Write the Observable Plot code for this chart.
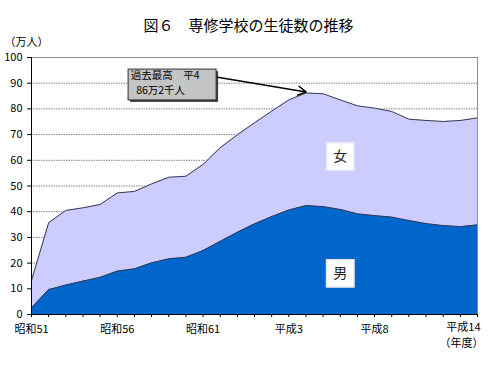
<!DOCTYPE html>
<html><head><meta charset="utf-8">
<script src="https://cdn.jsdelivr.net/npm/d3@7"></script>
<script src="https://cdn.jsdelivr.net/npm/@observablehq/plot@0.6"></script>
<style>body{margin:0;background:#fff;}</style>
</head><body><div id="chart"></div>
<script>
const years = ["昭和51","昭和52","昭和53","昭和54","昭和55","昭和56","昭和57","昭和58","昭和59","昭和60",
  "昭和61","昭和62","昭和63","平成元","平成2","平成3","平成4","平成5","平成6","平成7",
  "平成8","平成9","平成10","平成11","平成12","平成13","平成14"];
const male =   [2.6, 9.7, 11.5, 13.0, 14.5, 16.9, 17.8, 20.1, 21.7, 22.3,
  24.9, 28.5, 32.0, 35.3, 38.1, 40.7, 42.4, 42.0, 40.9, 39.2,
  38.5, 37.9, 36.6, 35.4, 34.6, 34.2, 34.9];
const female = [10.6, 26.0, 29.0, 28.5, 28.3, 30.4, 30.1, 30.7, 31.7, 31.5,
  33.5, 36.4, 37.9, 39.3, 41.0, 42.8, 43.8, 43.9, 42.6, 42.0,
  41.8, 41.1, 39.4, 40.1, 40.5, 41.3, 41.6];
const sexes = ["男", "女"];
const tickIdx = [0, 5, 10, 15, 20];
const lastIdx = 26;
const yTicks = d3.range(0, 101, 10);
const seriesLabels = [{label: "女", i: 18, v: 61.5}, {label: "男", i: 18, v: 16}];
const calloutLines = [{t: "過去最高　平4", i: 5.78, v: 92.9}, {t: "86万2千人", i: 6.1, v: 87.3}];
const calloutBox = [{x1: 5.66, x2: 10.79, y1: 83.3, y2: 95.3}];
const calloutArrow = [{x1: 10.85, y1: 92.3, x2: 16, y2: 86.6}];

const rows = [];
years.forEach((y, i) => {
  rows.push({i, sex: "男", value: male[i]});
});
years.forEach((y, i) => {
  rows.push({i, sex: "女", value: female[i]});
});

const font = "'Noto Sans CJK JP', sans-serif";
const chart = Plot.plot({
  width: 500, height: 367,
  marginLeft: 31, marginRight: 23, marginTop: 57, marginBottom: 53,
  style: {fontFamily: font, fontSize: "11px", color: "#000", background: "#fff"},
  x: {type: "linear", domain: [0, 26]},
  y: {domain: [0, 100]},
  color: {domain: sexes, range: ["#0066cc", "#ccccff"]},
  marks: [
    Plot.gridY(yTicks.filter(d => d > 0 && d < 100), {stroke: "#808080", strokeOpacity: 1, strokeDasharray: "1.5,1"}),
    Plot.areaY(rows, Plot.stackY({x: "i", y: "value", z: "sex", fill: "sex", order: sexes})),
    Plot.lineY(rows, Plot.stackY2({x: "i", y: "value", z: "sex", order: sexes, stroke: "#3a3a50", strokeWidth: 1})),
    Plot.frame({stroke: "#909090"}),
    Plot.ruleY([0], {stroke: "#000"}),
    Plot.ruleX([0], {stroke: "#000"}),
    Plot.axisY({ticks: yTicks, tickSize: 4, tickPadding: 5, label: null}),
    Plot.axisX({ticks: d3.range(0, 27), tickSize: 3, tickFormat: () => "", label: null}),
    Plot.axisX({ticks: tickIdx, tickSize: 0, tickPadding: 11, tickFormat: i => years[i], label: null}),
    Plot.text([years[lastIdx]], {x: () => lastIdx, y: () => 0, text: d => d, textAnchor: "end", dx: 3, dy: 13, fontSize: 11}),
    Plot.text(["（年度）"], {frameAnchor: "bottom-right", dx: -16, dy: 32.5, textAnchor: "middle", fontSize: 11}),
    Plot.text(["（万人）"], {frameAnchor: "top-left", dx: -5, dy: -19, textAnchor: "middle", fontSize: 11}),
    Plot.text(["図６　専修学校の生徒数の推移"], {frameAnchor: "top", dx: -6, dy: -37, fontSize: 15}),
    Plot.dot(seriesLabels, {x: "i", y: "v", symbol: "square", r: 15.5, fill: "#fff", stroke: "#e8e8f0"}),
    Plot.text(seriesLabels, {x: "i", y: "v", text: "label", fontSize: 14, fill: "#222"}),
    Plot.rect(calloutBox, {x1: "x1", x2: "x2", y1: "y1", y2: "y2", fill: "#404040", dx: 2, dy: 2}),
    Plot.rect(calloutBox, {x1: "x1", x2: "x2", y1: "y1", y2: "y2", fill: "#c4c4c4", stroke: "#303030"}),
    Plot.text(calloutLines, {x: "i", y: "v", text: "t", textAnchor: "start", fontSize: 10.5}),
    Plot.arrow(calloutArrow, {x1: "x1", y1: "y1", x2: "x2", y2: "y2", stroke: "#000", strokeWidth: 1.5, headLength: 9})
  ]
});
document.getElementById("chart").appendChild(chart);
</script>
</body></html>
